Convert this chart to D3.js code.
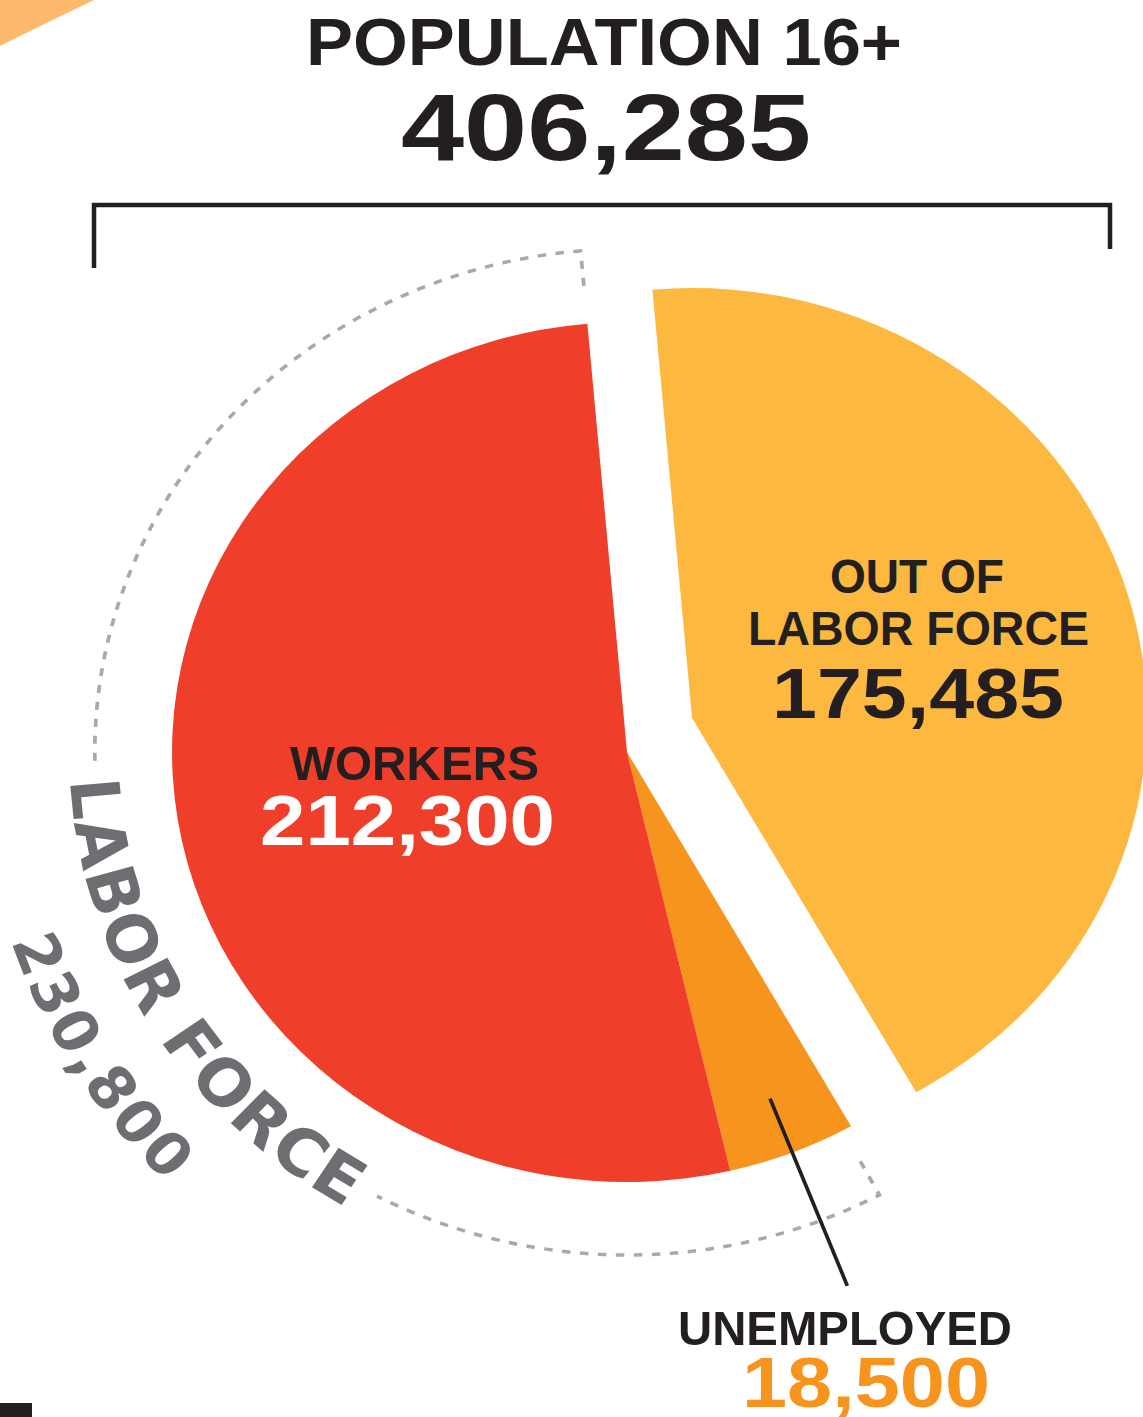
<!DOCTYPE html>
<html>
<head>
<meta charset="utf-8">
<script src="https://cdn.jsdelivr.net/npm/d3@7"></script>
<style>
  html, body { margin: 0; padding: 0; background: #fff; }
  svg { display: block; }
</style>
</head>
<body>
<div id="chart"></div>
<script>
// data
const categories = ["OUT OF LABOR FORCE", "UNEMPLOYED", "WORKERS"];
const values = [175485, 18500, 212300];
const totalLabel = ["POPULATION 16+", "406,285"];
const laborForceLabel = ["LABOR FORCE", "230,800"];
const sliceLabels = [["OUT OF", "LABOR FORCE", "175,485"], ["UNEMPLOYED", "18,500"], ["WORKERS", "212,300"]];
const colors = ["#fdb93f", "#f7941e", "#ef3f2a"];

const width = 1143, height = 1417;
const cx = 627, cy = 752, sx = 1.058, radius = 430;
const deg = Math.PI / 180;
const ink = "#231f20";
const font = "'Liberation Sans', Arial, sans-serif";

const svg = d3.select('#chart')
    .append('svg')
    .attr('width', width)
    .attr('height', height);

// bits of the neighbouring graphic that are cut off
svg.append('path')
    .attr('d', 'M0,0 L94,0 Q48,22 0,46 Z')
    .attr('fill', '#fdba6d');
svg.append('rect')
    .attr('x', 0).attr('y', 1403)
    .attr('width', 32).attr('height', 14)
    .attr('fill', ink);

// straight text helper, forced to the measured width
function addText(str, x, y, len, size, color) {
    return svg.append('text')
        .attr('x', x)
        .attr('y', y)
        .attr('textLength', len)
        .attr('lengthAdjust', 'spacingAndGlyphs')
        .attr('font-family', font)
        .attr('font-weight', 'bold')
        .attr('font-size', size)
        .attr('fill', color)
        .text(str);
}

// title
addText(totalLabel[0], 306, 65, 596, 67, ink);
addText(totalLabel[1], 401, 160, 410, 95, ink);

// bracket under the title
svg.append('path')
    .attr('d', 'M94,268 V205 H1110 V249')
    .attr('fill', 'none')
    .attr('stroke', ink)
    .attr('stroke-width', 4.5);

// pie
const pie = d3.pie()
    .sort(null)
    .value(d => d)
    .startAngle(-5 * deg)
    .endAngle(355 * deg);
const arcs = pie(values);

const arc = d3.arc()
    .innerRadius(0)
    .outerRadius(radius);

const g = svg.append('g')
    .attr('transform', `translate(${cx},${cy}) scale(${sx},1)`);

g.selectAll('path.slice')
    .data(arcs)
    .enter()
    .append('path')
    .attr('class', 'slice')
    .attr('d', arc)
    .attr('fill', (d, i) => colors[i])
    // out of labor force is pulled away from the rest
    .attr('transform', (d, i) => i === 0 ? 'translate(61.5,-34)' : null);

// dashed bracket round the labor force (unemployed + workers),
// broken where the curved label sits
const a0 = arcs[1].startAngle + 1.2 * deg, a1 = arcs[2].endAngle;
const gapStart = 208 * deg, gapEnd = 269 * deg;
const rIn = 465, rOut = 503;
const bp = d3.path();
bp.moveTo(rIn * Math.sin(a0), -rIn * Math.cos(a0));
bp.lineTo(rOut * Math.sin(a0), -rOut * Math.cos(a0));
bp.arc(0, 0, rOut, a0 - Math.PI / 2, gapStart - Math.PI / 2, false);
bp.moveTo(rOut * Math.sin(gapEnd), -rOut * Math.cos(gapEnd));
bp.arc(0, 0, rOut, gapEnd - Math.PI / 2, a1 - Math.PI / 2, false);
bp.lineTo(rIn * Math.sin(a1), -rIn * Math.cos(a1));
g.append('path')
    .attr('d', bp.toString())
    .attr('fill', 'none')
    .attr('stroke', '#a7a9ac')
    .attr('stroke-width', 3.5)
    .attr('stroke-dasharray', '8,9');

// curved labels
function arcPath(id, r, mid, span) {
    const s = mid + span, e = mid - span;
    const p = d3.path();
    p.moveTo(r * Math.sin(s), -r * Math.cos(s));
    p.arc(0, 0, r, s - Math.PI / 2, e - Math.PI / 2, true);
    g.append('path')
        .attr('id', id)
        .attr('d', p.toString())
        .attr('fill', 'none');
}
function curvedText(id, str, size, target) {
    const t = g.append('text')
        .attr('font-family', "'DejaVu Sans', sans-serif")
        .attr('font-weight', 'bold')
        .attr('font-size', size)
        .attr('fill', '#6d6e71')
        .attr('text-anchor', 'middle');
    t.append('textPath')
        .attr('href', '#' + id)
        .attr('startOffset', '50%')
        .text(str);
    const len = t.node().getComputedTextLength();
    const ls = (target - len) / (str.length - 1);
    t.attr('letter-spacing', ls);
}
const midLabor = 238.5 * deg;
arcPath('lfPath1', 527, midLabor, 80 * deg);
arcPath('lfPath2', 612, midLabor, 80 * deg);
curvedText('lfPath1', laborForceLabel[0], 64, 521);
curvedText('lfPath2', laborForceLabel[1], 58, 284);

// leader line for unemployed
const um = (arcs[1].startAngle + arcs[1].endAngle) / 2;
g.append('line')
    .attr('x1', 372 * Math.sin(um)).attr('y1', -372 * Math.cos(um))
    .attr('x2', 573 * Math.sin(um)).attr('y2', -573 * Math.cos(um))
    .attr('stroke', ink)
    .attr('stroke-width', 3.5);

// slice labels
addText(sliceLabels[0][0], 830, 593, 174, 49, ink);
addText(sliceLabels[0][1], 748, 645, 341, 49, ink);
addText(sliceLabels[0][2], 772, 718, 292, 70, ink);

addText(sliceLabels[2][0], 290, 780, 249, 49, ink);
addText(sliceLabels[2][1], 260, 845, 295, 70, '#fff');

addText(sliceLabels[1][0], 678, 1345, 334, 49, ink);
addText(sliceLabels[1][1], 742, 1407, 248, 70, colors[1]);
</script>
</body>
</html>
